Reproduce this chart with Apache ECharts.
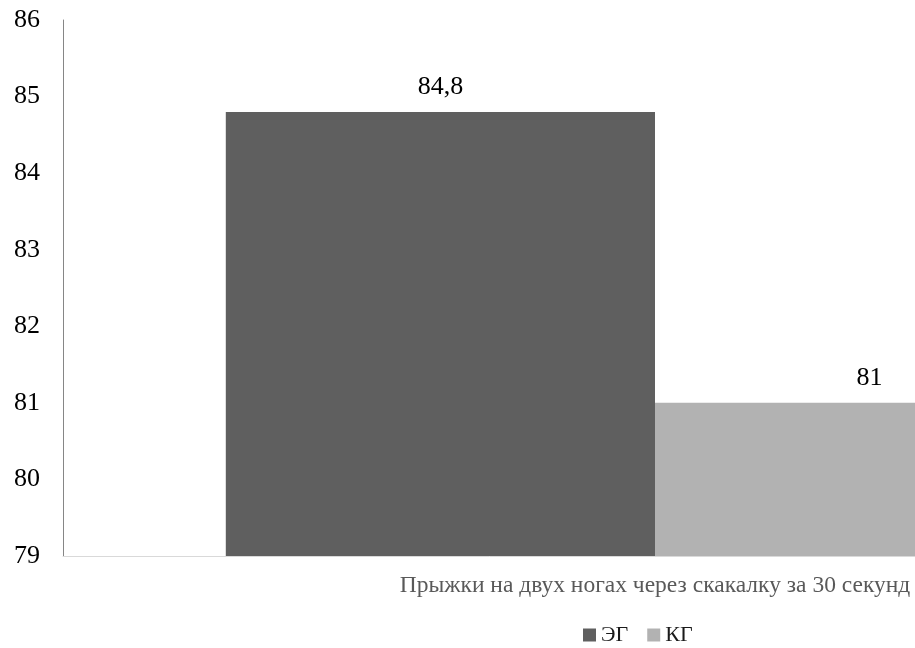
<!DOCTYPE html>
<html>
<head>
<meta charset="utf-8">
<style>
  html, body { margin: 0; padding: 0; background: #ffffff; }
  #chart { width: 915px; height: 648px; }
</style>
<script src="https://cdn.jsdelivr.net/npm/echarts@6/dist/echarts.min.js"></script>
</head>
<body>
<div id="chart"></div>
<script>
// Category and group results
const categories = ['Прыжки на двух ногах через скакалку за 30 секунд'];
const groupNames = ['ЭГ', 'КГ'];
const valuesEG = [84.8];
const valuesKG = [81];
const groupColors = ['#5f5f5f', '#b2b2b2'];

const serif = '"Liberation Serif", "Times New Roman", serif';

const chart = echarts.init(document.getElementById('chart'), null, { renderer: 'canvas' });

function fmt(v) {
  return String(v).replace('.', ',');
}

function barSeries(name, data, color) {
  return {
    name: name,
    type: 'bar',
    data: data,
    barGap: '0%',
    barCategoryGap: '27.5%',
    itemStyle: { color: color },
    label: {
      show: true,
      position: 'top',
      distance: 12,
      fontFamily: serif,
      fontSize: 26,
      color: '#000000',
      formatter: p => fmt(p.value)
    },
    emphasis: { disabled: true }
  };
}

chart.setOption({
  animation: false,
  backgroundColor: '#ffffff',
  // the plot area runs past the right edge of the canvas
  grid: { left: 63, top: 20, bottom: 92, width: 1184, containLabel: false, outerBoundsMode: 'none' },
  legend: {
    data: groupNames,
    left: 578,
    top: 619,
    icon: 'rect',
    itemWidth: 13,
    itemHeight: 13,
    itemGap: 19,
    textStyle: { fontFamily: serif, fontSize: 22, color: '#1a1a1a' }
  },
  xAxis: {
    type: 'category',
    data: categories,
    axisLine: { show: true, lineStyle: { color: '#d9d9d9', width: 1 } },
    axisTick: { show: false },
    axisLabel: {
      margin: 18,
      fontFamily: serif,
      fontSize: 23.5,
      color: '#595959'
    },
    splitLine: { show: false }
  },
  yAxis: {
    type: 'value',
    min: 79,
    max: 86,
    interval: 1,
    axisLine: { show: true, lineStyle: { color: '#868686', width: 1 } },
    axisTick: { show: false },
    splitLine: { show: false },
    axisLabel: {
      margin: 23,
      fontFamily: serif,
      fontSize: 26,
      color: '#000000'
    }
  },
  series: [
    barSeries(groupNames[0], valuesEG, groupColors[0]),
    barSeries(groupNames[1], valuesKG, groupColors[1])
  ]
});
</script>
</body>
</html>
